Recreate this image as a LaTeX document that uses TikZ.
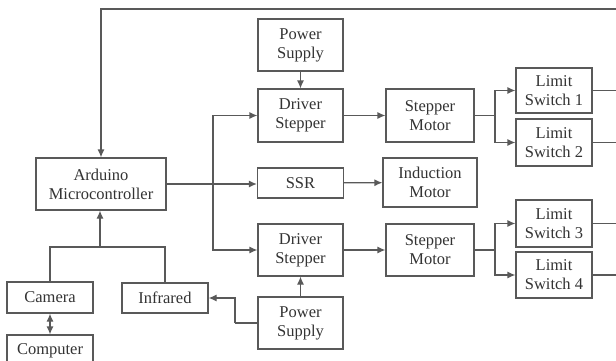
\documentclass[tikz,border=0pt]{standalone}
\usepackage{fontspec}
\setmainfont{Liberation Serif}
\usetikzlibrary{calc,arrows.meta}

\begin{document}
\begin{tikzpicture}[x=1pt, y=-1pt, >={Latex[length=8pt,width=7pt]},
  blk/.style={draw=black!65, line width=1.2pt, fill=white, align=center, inner sep=0pt,
    font=\rmfamily\fontsize{16.5}{19}\selectfont, text=black!80},
  wire/.style={draw=black!65, line width=1.2pt}]

\useasboundingbox (0,0) rectangle (616,360);
\begin{scope}
\clip (0,0) rectangle (616,360);

% controller and inputs
\node[blk, minimum width=130pt, minimum height=52pt] (arduino) at (101,184) {Arduino\\Microcontroller};
\node[blk, minimum width=86pt, minimum height=31pt] (camera) at (50,297.5) {Camera};
\node[blk, minimum width=86pt, minimum height=31pt] (computer) at (50,350.5) {Computer};
\node[blk, minimum width=86pt, minimum height=30pt] (infrared) at (165,298) {Infrared};

% drivers
\node[blk, minimum width=85pt, minimum height=52pt] (ps1) at (300.5,45) {Power\\Supply};
\node[blk, minimum width=85pt, minimum height=53pt] (ds1) at (300.5,115.5) {Driver\\Stepper};
\node[blk, minimum width=86pt, minimum height=30pt] (ssr) at (300.5,183) {SSR};
\node[blk, minimum width=85pt, minimum height=52pt] (ds2) at (300.5,250) {Driver\\Stepper};
\node[blk, minimum width=85pt, minimum height=52pt] (ps2) at (300.5,323) {Power\\Supply};

% motors
\node[blk, minimum width=88pt, minimum height=53pt] (sm1) at (430,115.5) {Stepper\\Motor};
\node[blk, minimum width=94pt, minimum height=49pt] (im) at (430,182.5) {Induction\\Motor};
\node[blk, minimum width=88pt, minimum height=52pt] (sm2) at (430,250) {Stepper\\Motor};

% limit switches
\node[blk, minimum width=76pt, minimum height=45pt] (ls1) at (554,90.5) {Limit\\Switch 1};
\node[blk, minimum width=76pt, minimum height=47pt] (ls2) at (554,142.5) {Limit\\Switch 2};
\node[blk, minimum width=76pt, minimum height=47pt] (ls3) at (554,223.5) {Limit\\Switch 3};
\node[blk, minimum width=76pt, minimum height=46pt] (ls4) at (554,275) {Limit\\Switch 4};

\coordinate (edge) at (616,9);
\coordinate (split) at (213,184);
\coordinate (fork1) at (495,115.5);
\coordinate (fork2) at (495,250);
\coordinate (join) at (100,247);
\coordinate (bend) at (235,323);

% feedback loop
\draw[wire,->] (edge) -| (arduino.north);
\foreach \n in {ls1,ls2,ls3,ls4}
  \draw[wire] (\n.east) -- (\n.east -| edge);

% controller outputs
\draw[wire,->] (arduino.east |- split) -- (ssr.west |- split);
\draw[wire,->] (split) |- (ds1.west);
\draw[wire,->] (split) |- (ds2.west);
\draw[wire,->] (ps1) -- (ds1);
\draw[wire,->] (ps2) -- (ds2);
\draw[wire,->] (ds1) -- (sm1);
\draw[wire,->] (ssr) -- (im);
\draw[wire,->] (ds2) -- (sm2);

\draw[wire] (sm1.east) -- (fork1);
\draw[wire,->] (fork1) |- (ls1.west);
\draw[wire,->] (fork1) |- (ls2.west);
\draw[wire] (sm2.east) -- (fork2);
\draw[wire,->] (fork2) |- (ls3.west);
\draw[wire,->] (fork2) |- (ls4.west);

% inputs
\draw[wire] (ps2.west) -- (bend);
\draw[wire,->] (bend) |- (infrared.east);
\draw[wire] (camera.north) |- (join) -| (infrared.north);
\draw[wire,->] (join) -- (arduino.south -| join);
\draw[wire,<->] (camera) -- (computer);
\end{scope}

\end{tikzpicture}
\end{document}
